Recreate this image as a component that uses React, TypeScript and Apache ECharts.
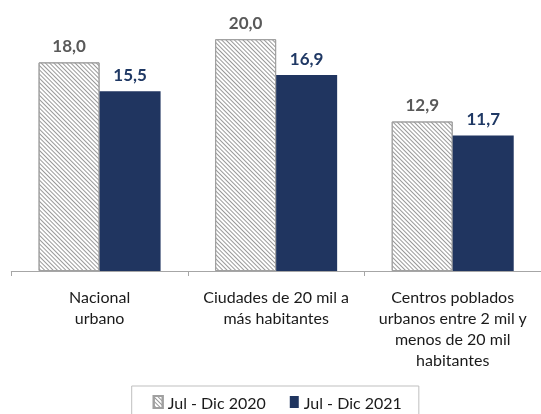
import React, { useEffect, useRef } from "react";
import * as echarts from "echarts";

const categories = [
  "Nacional\nurbano",
  "Ciudades de 20 mil a\nmás habitantes",
  "Centros poblados\nurbanos entre 2 mil y\nmenos de 20 mil\nhabitantes",
];
const seriesNames = ["Jul - Dic 2020", "Jul - Dic 2021"];
const values2020 = [18.0, 20.0, 12.9];
const values2021 = [15.5, 16.9, 11.7];

const FONT = "Lato";
const fmt = (p: any) => Number(p.value).toFixed(1).replace(".", ",");

export default function App() {
  const ref = useRef<HTMLDivElement>(null);
  useEffect(() => {
    if (!ref.current) return;
    const chart = echarts.init(ref.current, undefined, { renderer: "svg" });
    chart.setOption({
      animation: false,
      grid: { left: 11.3, right: -2.8, top: 16, bottom: 143 },
      xAxis: {
        type: "category",
        data: categories,
        axisLine: { lineStyle: { color: "#a6a6a6", width: 1 } },
        axisTick: { show: true, length: 5, lineStyle: { color: "#a6a6a6" } },
        axisLabel: {
          interval: 0,
          color: "#1a1a1a",
          fontFamily: FONT,
          fontSize: 16,
          lineHeight: 21,
          margin: 15,
        },
      },
      yAxis: {
        type: "value",
        min: 0,
        max: 22,
        show: false,
        splitLine: { show: false },
      },
      legend: {
        data: seriesNames,
        left: 131.7,
        top: 386,
        padding: [8, 17, 11, 21],
        itemWidth: 9,
        itemHeight: 12,
        itemGap: 24,
        borderColor: "#bfbfbf",
        borderWidth: 1,
        icon: "rect",
        textStyle: { fontFamily: FONT, fontSize: 16, color: "#1a1a1a" },
      },
      series: [
        {
          name: seriesNames[0],
          type: "bar",
          data: values2020,
          barWidth: 61,
          barGap: "0%",
          itemStyle: {
            color: "#ffffff",
            borderColor: "#a0a0a0",
            borderWidth: 1,
            decal: {
              symbol: "rect",
              symbolSize: 1,
              color: "#999999",
              backgroundColor: "#ffffff",
              dashArrayX: [1, 0],
              dashArrayY: [1, 2],
              rotation: Math.PI / 4,
            },
          },
          label: {
            show: true,
            position: "top",
            distance: 8,
            formatter: fmt,
            color: "#595959",
            fontFamily: FONT,
            fontWeight: "bold",
            fontSize: 17,
          },
        },
        {
          name: seriesNames[1],
          type: "bar",
          data: values2021,
          barWidth: 61,
          barGap: "0%",
          itemStyle: { color: "#203560" },
          label: {
            show: true,
            position: "top",
            distance: 8,
            formatter: fmt,
            color: "#1f3864",
            fontFamily: FONT,
            fontWeight: "bold",
            fontSize: 17,
          },
        },
      ],
    });
    return () => chart.dispose();
  }, []);
  return (
    <div
      ref={ref}
      style={{ position: "fixed", left: 0, top: 0, width: 541, height: 414 }}
    />
  );
}
